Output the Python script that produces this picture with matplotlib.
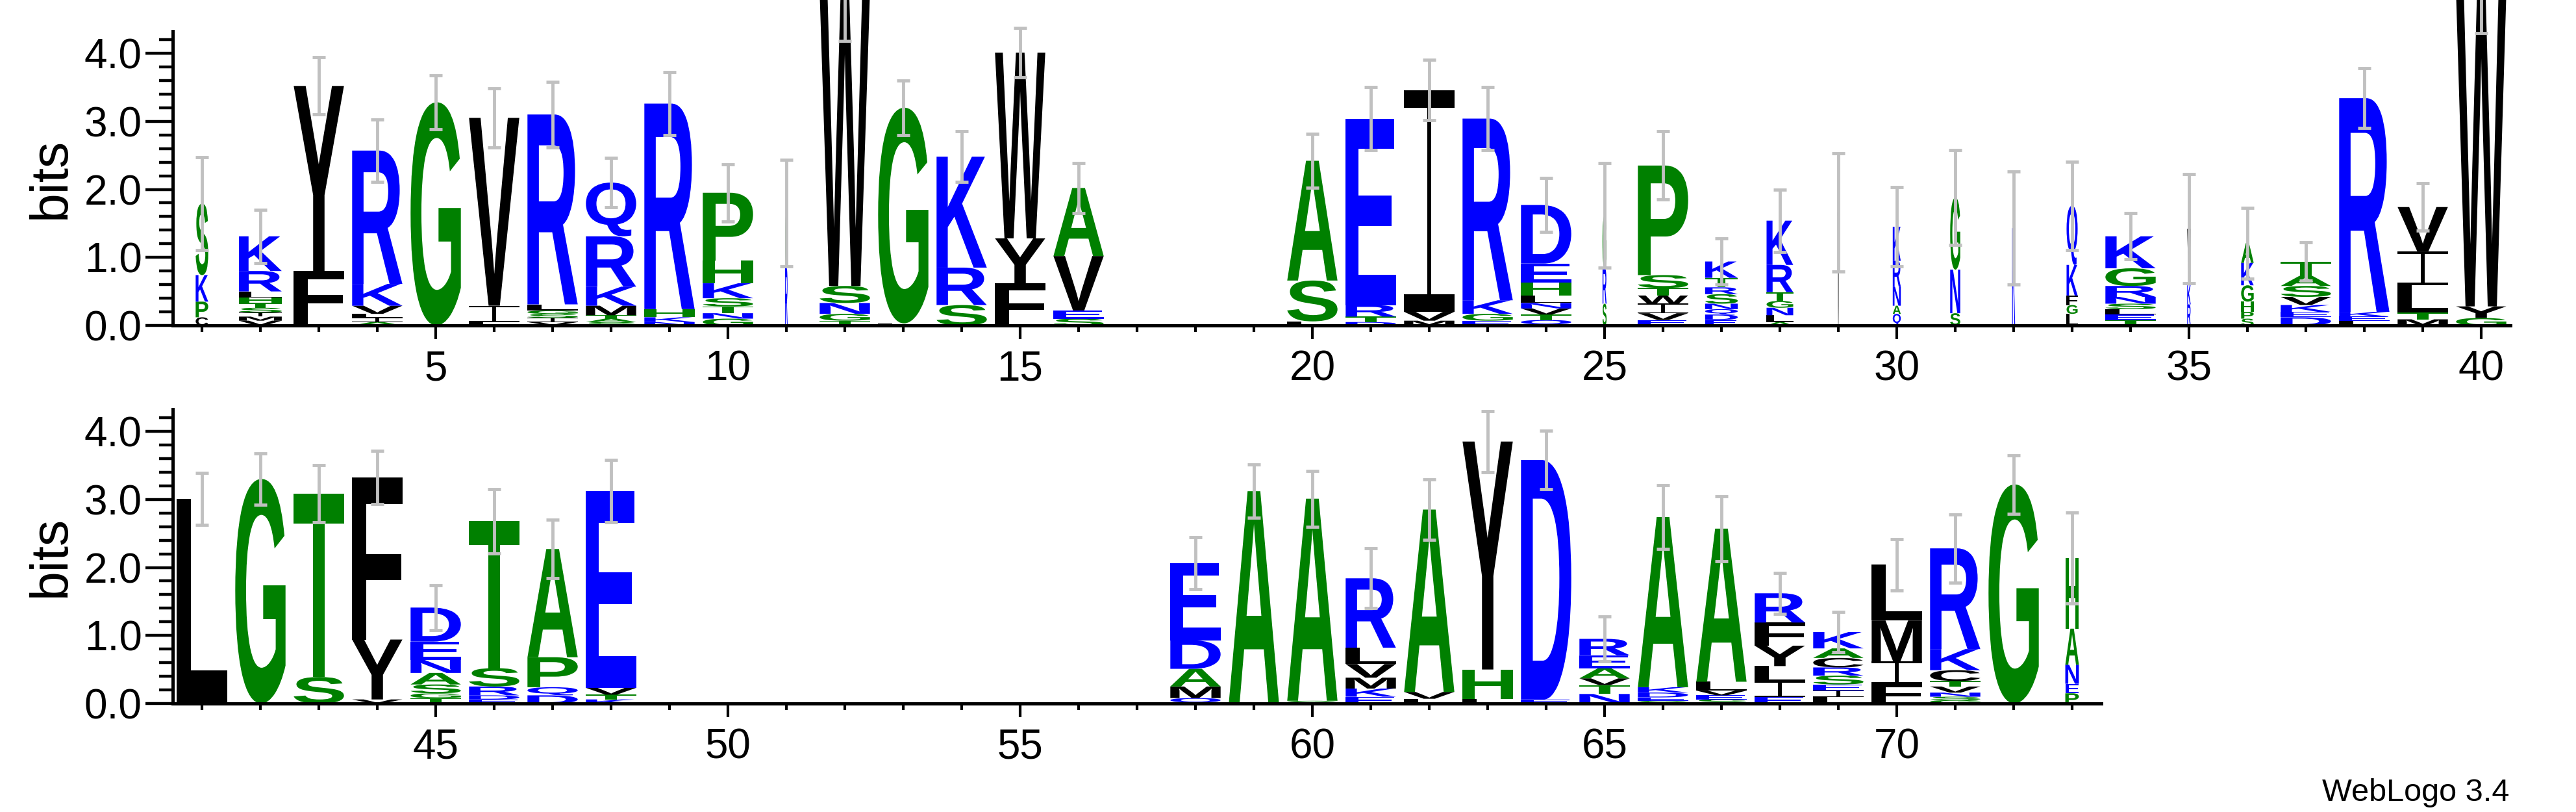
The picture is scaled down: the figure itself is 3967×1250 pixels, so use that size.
import matplotlib
matplotlib.use('Agg')
import matplotlib.pyplot as plt
from matplotlib.textpath import TextPath
from matplotlib.patches import PathPatch
from matplotlib.path import Path
from matplotlib.font_manager import FontProperties
from matplotlib.transforms import Affine2D

plt.rcParams['font.family'] = ['Liberation Sans', 'DejaVu Sans']

# ---- data: residues per column (bottom to top) and their heights in bits ----
letters_top = [
    "CPKS", "VMISTHLRK", "LFY", "AILVKR", "G", "LIV", "VISGLR", "SATMKRQ",
    "NKHR", "GNTSKHP", "RG", "TGNSW", "LG", "SRK", "FYW", "SEVA", "", "", "",
    "LSA", "DTRE", "MVI", "EGKR", "QTVNLHED", "SRG", "EVIWTSP", "EDQNSRTK",
    "ALNGTRK", "V", "QANRK", "SNG", "K", "LGFKQ", "TELSNRGK", "RKV", "SPHGKA",
    "DEKVSAT", "LEKR", "MTLIV", "GYW",
]
heights_top = [
    [0.12, 0.23, 0.39, 1.05],
    [0.07, 0.06, 0.06, 0.07, 0.07, 0.08, 0.09, 0.30, 0.51],
    [0.05, 0.75, 2.72],
    [0.05, 0.06, 0.06, 0.12, 0.32, 1.96],
    [3.28],
    [0.05, 0.24, 2.76],
    [0.05, 0.06, 0.06, 0.05, 0.09, 2.79],
    [0.05, 0.05, 0.05, 0.14, 0.28, 0.74, 0.79],
    [0.05, 0.07, 0.12, 3.02],
    [0.10, 0.08, 0.10, 0.12, 0.22, 0.33, 1.00],
    [0.85, 0.80],
    [0.07, 0.10, 0.16, 0.25, 4.30],
    [0.03, 3.17],
    [0.30, 0.55, 1.63],
    [0.62, 0.66, 2.73],
    [0.10, 0.12, 0.80, 1.00],
    [], [], [],
    [0.06, 0.60, 1.76],
    [0.05, 0.08, 0.17, 2.74],
    [0.07, 0.13, 3.26],
    [0.07, 0.10, 0.20, 2.67],
    [0.08, 0.08, 0.09, 0.08, 0.11, 0.19, 0.28, 0.86],
    [0.32, 0.52, 0.78],
    [0.08, 0.10, 0.14, 0.12, 0.11, 0.19, 1.61],
    [0.08, 0.08, 0.08, 0.08, 0.14, 0.10, 0.14, 0.24],
    [0.05, 0.10, 0.11, 0.10, 0.13, 0.40, 0.65],
    [1.66],
    [0.17, 0.12, 0.28, 0.38, 0.50],
    [0.18, 0.64, 1.06],
    [1.43],
    [0.17, 0.13, 0.14, 0.45, 0.87],
    [0.08, 0.08, 0.08, 0.08, 0.10, 0.16, 0.26, 0.47],
    [0.31, 0.28, 0.83],
    [0.10, 0.10, 0.15, 0.24, 0.33, 0.29],
    [0.12, 0.08, 0.10, 0.12, 0.16, 0.15, 0.21],
    [0.07, 0.06, 0.07, 3.14],
    [0.09, 0.10, 0.40, 0.50, 0.65],
    [0.11, 0.17, 4.60],
]
# fraction of sequences present in each column (scales stack width)
widths_top = [0.25, 0.85, 1, 1, 1, 1, 1, 1, 1, 1, 0.05, 1, 1, 1, 1, 1, 1, 1, 1,
              1, 1, 1, 1, 1, 0.08, 1, 0.65, 0.53, 0.03, 0.16, 0.20, 0.06, 0.22,
              1, 0.07, 0.25, 1, 1, 1, 1]
errors_top = [0.68, 0.39, 0.42, 0.46, 0.40, 0.43, 0.48, 0.36, 0.46, 0.42, 0.78,
              0.70, 0.40, 0.37, 0.36, 0.37, 0, 0, 0, 0.40, 0.46, 0.44, 0.46,
              0.40, 0.77, 0.50, 0.34, 0.46, 0.87, 0.58, 0.70, 0.83, 0.65, 0.34,
              0.80, 0.52, 0.28, 0.44, 0.35, 0.58]

letters_bottom = [
    "L", "G", "ST", "VYF", "TGSANED", "EDRST", "DQPA", "KTVE",
    "", "", "", "", "", "", "", "", "",
    "QMADE", "A", "GA", "EKMVLR", "LVA", "LHY", "ED", "NTVAER", "GEDKA",
    "SEVLA", "EILYFR", "LIESRCAK", "FIML", "GSNVTCKR", "G", "PENAH",
]
heights_bottom = [
    [3.01],
    [3.30],
    [0.39, 2.69],
    [0.06, 0.88, 2.38],
    [0.08, 0.07, 0.13, 0.17, 0.19, 0.27, 0.50],
    [0.06, 0.06, 0.13, 0.27, 2.16],
    [0.12, 0.12, 0.44, 1.59],
    [0.06, 0.07, 0.10, 2.89],
    [], [], [], [], [], [], [], [], [],
    [0.08, 0.17, 0.26, 0.42, 1.13],
    [3.12],
    [0.04, 2.97],
    [0.10, 0.12, 0.16, 0.20, 0.24, 1.02],
    [0.07, 0.10, 2.68],
    [0.07, 0.43, 3.35],
    [0.06, 3.52],
    [0.14, 0.13, 0.10, 0.15, 0.19, 0.24],
    [0.04, 0.05, 0.07, 0.08, 2.50],
    [0.06, 0.06, 0.07, 0.13, 2.25],
    [0.10, 0.22, 0.23, 0.30, 0.34, 0.43],
    [0.10, 0.09, 0.09, 0.13, 0.12, 0.14, 0.14, 0.24],
    [0.29, 0.33, 0.60, 0.82],
    [0.05, 0.05, 0.06, 0.09, 0.08, 0.16, 0.31, 1.48],
    [3.22],
    [0.15, 0.14, 0.28, 0.53, 1.04],
]
widths_bottom = [1] * 32 + [0.27]
errors_bottom = [0.38, 0.38, 0.42, 0.39, 0.33, 0.47, 0.43, 0.46,
                 0, 0, 0, 0, 0, 0, 0, 0, 0,
                 0.38, 0.39, 0.41, 0.44, 0.44, 0.45, 0.43, 0.33, 0.47, 0.48,
                 0.30, 0.30, 0.38, 0.50, 0.43, 0.67]

# hydrophobicity colour scheme
COLORS = {}
for c in "RKDENQ":
    COLORS[c] = '#0000ff'
for c in "SGHTAP":
    COLORS[c] = '#008000'
for c in "YVMCLFIW":
    COLORS[c] = '#000000'

STACK_W = 0.86
YMAX = 4.32
FP = FontProperties(family='Liberation Sans', weight='bold')
_glyphs = {}


def serif_i(stem=0.09, bar=0.08):
    """ An 'I' with bars, as WebLogo draws it. """
    a, b = 0.5 - stem / 2, 0.5 + stem / 2
    verts = [(0, 0), (1, 0), (1, bar), (b, bar), (b, 1 - bar), (1, 1 - bar),
             (1, 1), (0, 1), (0, 1 - bar), (a, 1 - bar), (a, bar), (0, bar),
             (0, 0)]
    codes = [Path.MOVETO] + [Path.LINETO] * (len(verts) - 2) + [Path.CLOSEPOLY]
    return Path(verts, codes)


def glyph(ch):
    if ch not in _glyphs:
        if ch == 'I':
            _glyphs[ch] = serif_i()
        else:
            _glyphs[ch] = TextPath((0, 0), ch, size=1, prop=FP)
    return _glyphs[ch]


def draw_logo(ax, start, letters, heights, widths, errors):
    xs, tops, errs = [], [], []
    for i, (seq, hs, wf) in enumerate(zip(letters, heights, widths)):
        pos = start + i
        w = STACK_W * wf
        y = 0.0
        for ch, h in zip(seq, hs):
            path = glyph(ch)
            ext = path.get_extents()
            tr = (Affine2D().translate(-ext.x0, -ext.y0)
                  .scale(w / ext.width, h / ext.height)
                  .translate(pos - w / 2, y))
            ax.add_patch(PathPatch(tr.transform_path(path), fc=COLORS[ch],
                                   ec='none', lw=0, clip_on=False, zorder=2))
            y += h
        if seq:
            xs.append(pos)
            tops.append(y)
            errs.append(errors[i])
    eb = ax.errorbar(xs, tops, yerr=errs, fmt='none', ecolor='#c0c0c0',
                     elinewidth=3.5, capsize=7.5, capthick=3.5, zorder=5)
    for art in eb.lines[1] + eb.lines[2]:
        art.set_clip_on(False)


def style_axis(ax, first, last, majors):
    ax.set_xlim(first - 0.5, last + 0.5)
    ax.set_ylim(0, YMAX)
    for s in ('top', 'right'):
        ax.spines[s].set_visible(False)
    for s in ('left', 'bottom'):
        ax.spines[s].set_linewidth(3.6)
    ax.set_xticks(majors)
    ax.set_xticks(range(first, last + 1), minor=True)
    ax.set_xticklabels([str(m) for m in majors])
    ax.set_yticks([0, 1, 2, 3, 4])
    ax.set_yticklabels(['0.0', '1.0', '2.0', '3.0', '4.0'])
    ax.set_yticks([k * 0.2 for k in range(22)], minor=True)
    ax.tick_params(axis='x', which='major', length=15, width=3, pad=12,
                   labelsize=46, direction='out')
    ax.tick_params(axis='x', which='minor', length=7, width=3, direction='out')
    ax.tick_params(axis='y', which='major', length=30, width=3.2, pad=4,
                   labelsize=46, direction='out')
    ax.tick_params(axis='y', which='minor', length=15, width=3.2, direction='out')


W, H = 3967, 1250
fig = plt.figure(figsize=(W / 100, H / 100), dpi=100)
unit = 90.0
left = 266
axh = YMAX * 104.75

ax1 = fig.add_axes([left / W, 1 - 501 / H, 40 * unit / W, axh / H])
ax2 = fig.add_axes([left / W, 1 - 1083 / H, 33 * unit / W, axh / H])

style_axis(ax1, 1, 40, list(range(5, 41, 5)))
style_axis(ax2, 41, 73, list(range(45, 71, 5)))

draw_logo(ax1, 1, letters_top, heights_top, widths_top, errors_top)
draw_logo(ax2, 41, letters_bottom, heights_bottom, widths_bottom, errors_bottom)

for base in (501, 1083):
    yc = 1 - (base - axh / 2) / H
    fig.text(100 / W, yc, 'bits', rotation=90, rotation_mode='anchor',
             ha='center', va='baseline', fontsize=58)

fig.text(3864 / W, 1 - 1233 / H, 'WebLogo 3.4', ha='right', va='baseline',
         fontsize=35)

fig.savefig('out.png', dpi=100)
